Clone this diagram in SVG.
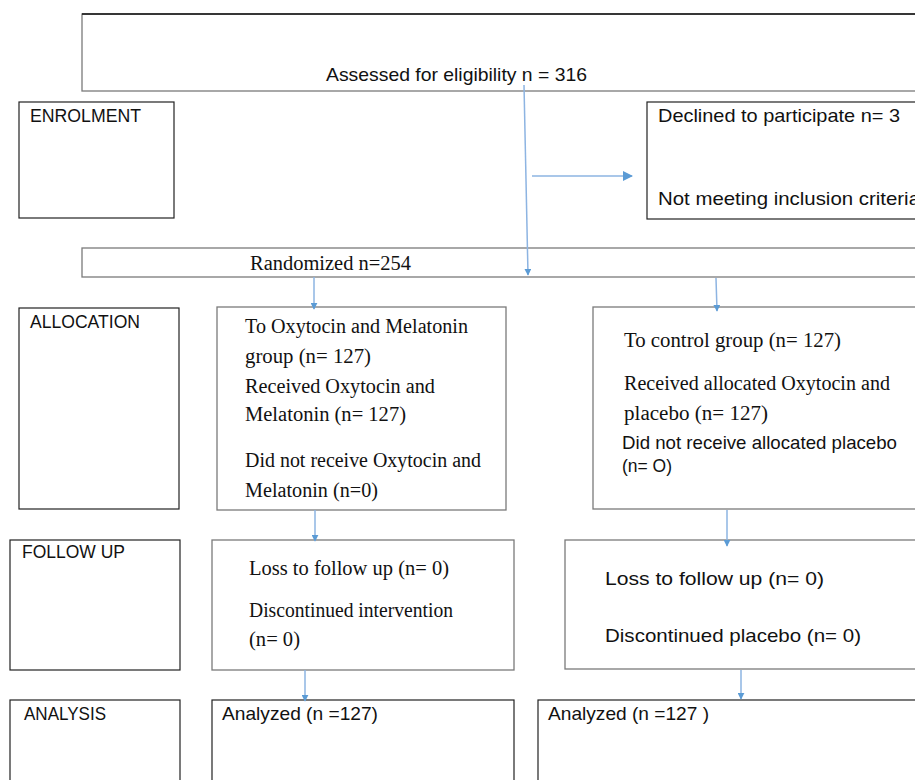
<svg xmlns="http://www.w3.org/2000/svg" width="915" height="780" viewBox="0 0 915 780">
<style>
.box{fill:#fff;stroke:#7a7a7a;stroke-width:1.3}
.dk{fill:#fff;stroke:#222;stroke-width:1.2}
.s{font-family:"Liberation Sans",Arial,sans-serif;font-size:18.5px;fill:#111}
.t{font-family:"Liberation Serif","Times New Roman",serif;font-size:20px;fill:#111}
.c line{stroke:#8db4e2;stroke-width:1.5}
</style>
<defs>
<marker id="ah" viewBox="0 0 10 10" refX="9" refY="5" markerWidth="7" markerHeight="7" orient="auto" markerUnits="userSpaceOnUse"><path d="M0,0 L10,5 L0,10 z" fill="#5b9bd5"/></marker>
<marker id="ah2" viewBox="0 0 10 10" refX="9" refY="5" markerWidth="12" markerHeight="10" orient="auto" markerUnits="userSpaceOnUse"><path d="M0,0 L10,5 L0,10 z" fill="#5b9bd5"/></marker>
</defs>
<rect width="915" height="780" fill="#fff"/>
<g id="assessed"><rect class="box" x="82" y="14" width="840" height="77"/><line x1="82" y1="14" x2="915" y2="14" stroke="#111" stroke-width="1.5"/><text class="s" x="326" y="81" textLength="261" lengthAdjust="spacingAndGlyphs">Assessed for eligibility n = 316</text></g>
<g id="enrolment"><rect class="dk" x="19" y="102" width="155" height="116"/><text class="s" x="30" y="122" textLength="111" lengthAdjust="spacingAndGlyphs">ENROLMENT</text></g>
<g id="declined"><rect class="dk" x="647" y="102" width="275" height="117"/><text class="s" x="658" y="122" textLength="242" lengthAdjust="spacingAndGlyphs">Declined to  participate n= 3</text><text class="s" x="658" y="205" textLength="262" lengthAdjust="spacingAndGlyphs">Not meeting inclusion criteria</text></g>
<g id="randomized"><rect class="box" x="82" y="248" width="840" height="29"/><text class="t" x="250" y="270" textLength="161" lengthAdjust="spacingAndGlyphs">Randomized n=254</text></g>
<g id="allocation"><rect class="dk" x="19" y="308" width="160" height="201"/><text class="s" x="30" y="328" textLength="110" lengthAdjust="spacingAndGlyphs">ALLOCATION</text></g>
<g id="alloc-left"><rect class="box" x="217" y="307" width="289" height="203"/>
<text class="t" x="245" y="333" textLength="223" lengthAdjust="spacingAndGlyphs">To Oxytocin and Melatonin</text>
<text class="t" x="245" y="363" textLength="126" lengthAdjust="spacingAndGlyphs">group (n= 127)</text>
<text class="t" x="245" y="393" textLength="190" lengthAdjust="spacingAndGlyphs">Received Oxytocin and</text>
<text class="t" x="245" y="421" textLength="161" lengthAdjust="spacingAndGlyphs">Melatonin (n= 127)</text>
<text class="t" x="245" y="467" textLength="236" lengthAdjust="spacingAndGlyphs">Did not receive Oxytocin and</text>
<text class="t" x="245" y="497" textLength="133" lengthAdjust="spacingAndGlyphs">Melatonin (n=0)</text></g>
<g id="alloc-right"><rect class="box" x="593" y="307" width="330" height="202"/>
<text class="t" x="624" y="347" textLength="217" lengthAdjust="spacingAndGlyphs">To control group (n= 127)</text>
<text class="t" x="624" y="390" textLength="266" lengthAdjust="spacingAndGlyphs">Received allocated Oxytocin and</text>
<text class="t" x="624" y="420" textLength="144" lengthAdjust="spacingAndGlyphs">placebo (n= 127)</text>
<text class="s" x="622" y="449" font-size="16.5" textLength="275" lengthAdjust="spacingAndGlyphs">Did not receive allocated placebo</text>
<text class="s" x="622" y="472" font-size="16.5" textLength="50" lengthAdjust="spacingAndGlyphs">(n= O)</text></g>
<g id="followup"><rect class="dk" x="10" y="540" width="170" height="130"/><text class="s" x="22" y="558" textLength="103" lengthAdjust="spacingAndGlyphs">FOLLOW UP</text></g>
<g id="fu-left"><rect class="box" x="212" y="540" width="302" height="130"/>
<text class="t" x="249" y="575" textLength="200" lengthAdjust="spacingAndGlyphs">Loss to follow up (n= 0)</text>
<text class="t" x="249" y="617" textLength="204" lengthAdjust="spacingAndGlyphs">Discontinued intervention</text>
<text class="t" x="249" y="646" textLength="51" lengthAdjust="spacingAndGlyphs">(n= 0)</text></g>
<g id="fu-right"><rect class="box" x="565" y="540" width="357" height="129"/>
<text class="s" x="605" y="585" font-size="20" textLength="219" lengthAdjust="spacingAndGlyphs">Loss to follow up (n= 0)</text>
<text class="s" x="605" y="642" font-size="20" textLength="256" lengthAdjust="spacingAndGlyphs">Discontinued placebo (n= 0)</text></g>
<g id="analysis"><rect class="dk" x="10" y="700" width="170" height="100"/><text class="s" x="24" y="720" textLength="82" lengthAdjust="spacingAndGlyphs">ANALYSIS</text></g>
<g id="an-left"><rect class="dk" x="212" y="700" width="302" height="100"/><text class="s" x="222" y="720" textLength="156" lengthAdjust="spacingAndGlyphs">Analyzed (n =127)</text></g>
<g id="an-right"><rect class="dk" x="538" y="700" width="384" height="100"/><text class="s" x="548" y="720" textLength="161" lengthAdjust="spacingAndGlyphs">Analyzed (n =127 )</text></g>
<g id="connectors" class="c">
<line x1="524" y1="85" x2="528" y2="275" marker-end="url(#ah)"/>
<line x1="532" y1="176" x2="632" y2="176" marker-end="url(#ah2)"/>
<line x1="314" y1="277" x2="314" y2="309" marker-end="url(#ah)"/>
<line x1="716" y1="278" x2="717" y2="311" marker-end="url(#ah)"/>
<line x1="315" y1="510" x2="315" y2="541" marker-end="url(#ah)"/>
<line x1="727" y1="510" x2="727" y2="546" marker-end="url(#ah)"/>
<line x1="305" y1="670" x2="305" y2="701" marker-end="url(#ah)"/>
<line x1="741" y1="670" x2="741" y2="699" marker-end="url(#ah)"/>
</g>
</svg>
